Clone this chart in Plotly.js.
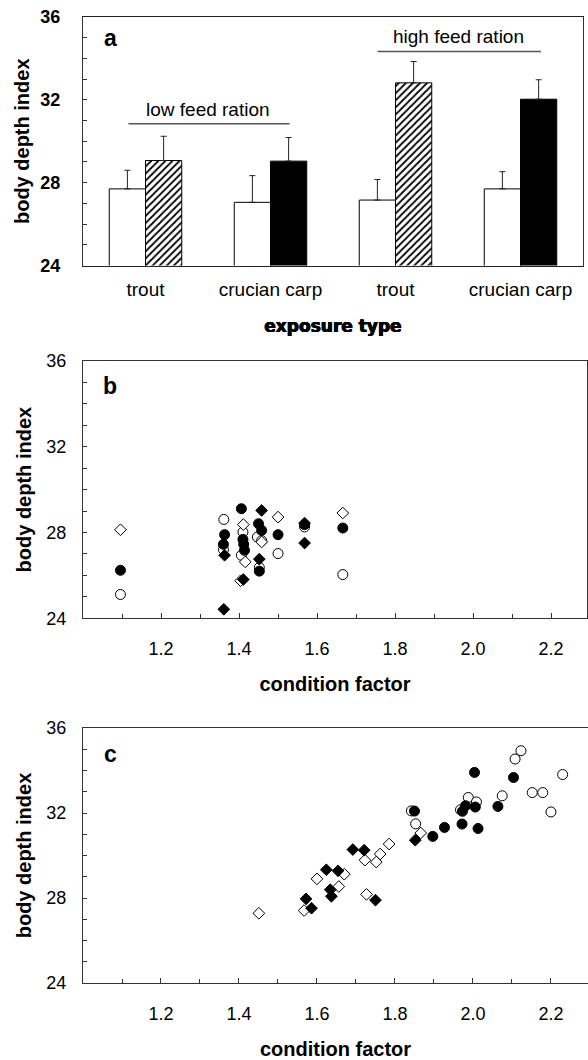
<!DOCTYPE html>
<html>
<head>
<meta charset="utf-8">
<script src="https://cdn.plot.ly/plotly-3.0.1.min.js"></script>
<style>
  html, body { margin: 0; padding: 0; background: #ffffff; }
  #chart { width: 588px; height: 1060px; }
</style>
</head>
<body>
<div id="chart"></div>
<script>
// ---------- Panel a: bar chart ----------
const barCategories = ['trout', 'crucian carp', 'trout', 'crucian carp'];
const barPositions = [0, 1, 2, 3];
const controlMean = [27.70, 27.05, 27.16, 27.70];
const controlErr = [0.90, 1.29, 0.99, 0.83];
const exposedMean = [29.07, 29.04, 32.82, 32.03];
const exposedErr = [1.17, 1.14, 1.03, 0.94];
const noLowerErr = [0, 0, 0, 0];
const exposedHatch = ['/', '', '/', ''];

// ---------- Panel b: low feed ration ----------
const bOpenCircleX = [1.096, 1.361, 1.360, 1.410, 1.406, 1.447, 1.458, 1.452, 1.500, 1.568, 1.666];
const bOpenCircleY = [25.11, 28.61, 27.20, 28.02, 26.94, 27.79, 27.62, 26.37, 27.02, 28.26, 26.04];
const bFilledCircleX = [1.096, 1.363, 1.360, 1.406, 1.410, 1.412, 1.414, 1.450, 1.458, 1.452, 1.500, 1.568, 1.666];
const bFilledCircleY = [26.24, 27.90, 27.45, 29.11, 27.68, 27.45, 27.17, 28.41, 28.10, 26.20, 27.90, 28.37, 28.21];
const bOpenDiamondX = [1.096, 1.411, 1.416, 1.404, 1.458, 1.500, 1.666];
const bOpenDiamondY = [28.13, 28.37, 26.63, 25.75, 27.56, 28.72, 28.91];
const bFilledDiamondX = [1.361, 1.363, 1.411, 1.458, 1.452, 1.568, 1.568];
const bFilledDiamondY = [24.42, 26.94, 25.81, 29.03, 26.76, 28.44, 27.51];

// ---------- Panel c: high feed ration ----------
const cOpenCircleX = [2.123, 2.108, 2.230, 2.152, 2.179, 2.200, 2.075, 1.988, 2.009, 1.968, 1.842, 1.853];
const cOpenCircleY = [34.93, 34.54, 33.81, 32.96, 32.96, 32.05, 32.81, 32.73, 32.52, 32.15, 32.10, 31.49];
const cFilledCircleX = [2.004, 2.104, 2.064, 1.981, 2.006, 1.973, 1.972, 2.013, 1.927, 1.897, 1.850];
const cFilledCircleY = [33.91, 33.67, 32.31, 32.34, 32.28, 32.08, 31.48, 31.27, 31.32, 30.90, 32.09];
const cOpenDiamondX = [1.451, 1.567, 1.600, 1.670, 1.656, 1.723, 1.752, 1.762, 1.785, 1.866, 1.727];
const cOpenDiamondY = [27.28, 27.41, 28.90, 29.12, 28.54, 29.78, 29.69, 30.07, 30.54, 31.06, 28.17];
const cFilledDiamondX = [1.572, 1.586, 1.624, 1.654, 1.634, 1.637, 1.692, 1.721, 1.750, 1.852];
const cFilledDiamondY = [27.96, 27.52, 29.33, 29.28, 28.39, 28.08, 30.28, 30.25, 27.90, 30.72];

// ---------- Tick labels ----------
const yTickVals = [24, 28, 32, 36];
const xTickVals = [1.2, 1.4, 1.6, 1.8, 2.0, 2.2];
const xTickText = ['1.2', '1.4', '1.6', '1.8', '2.0', '2.2'];

// ---------- helpers ----------
const W = 588, H = 1060;
const px = v => v / W;
const py = v => 1 - v / H;
const FONT = 'Liberation Sans, Arial, sans-serif';
const AX = '#333333';

function scatterTrace(x, y, symbol, fill, xa, ya, size) {
  return {
    type: 'scatter', mode: 'markers', x: x, y: y, xaxis: xa, yaxis: ya,
    marker: { symbol: symbol, size: size, color: fill, line: { color: '#000', width: 1 } },
    hoverinfo: 'x+y', showlegend: false
  };
}

const traces = [
  {
    type: 'bar', x: barPositions, y: controlMean, xaxis: 'x', yaxis: 'y',
    marker: { color: '#ffffff', line: { color: '#000', width: 1 } },
    error_y: { type: 'data', symmetric: false, array: controlErr, arrayminus: noLowerErr,
               color: '#222', thickness: 1, width: 3 },
    showlegend: false
  },
  {
    type: 'bar', x: barPositions, y: exposedMean, xaxis: 'x', yaxis: 'y',
    marker: { color: '#000000', line: { color: '#000', width: 1 },
              pattern: { shape: exposedHatch, fillmode: 'replace', fgcolor: '#000', bgcolor: '#fff',
                         size: 5, solidity: 0.35 } },
    error_y: { type: 'data', symmetric: false, array: exposedErr, arrayminus: noLowerErr,
               color: '#222', thickness: 1, width: 3 },
    showlegend: false
  },
  scatterTrace(bOpenCircleX, bOpenCircleY, 'circle', '#fff', 'x2', 'y2', 10),
  scatterTrace(bFilledCircleX, bFilledCircleY, 'circle', '#000', 'x2', 'y2', 10),
  scatterTrace(bOpenDiamondX, bOpenDiamondY, 'diamond', '#fff', 'x2', 'y2', 9),
  scatterTrace(bFilledDiamondX, bFilledDiamondY, 'diamond', '#000', 'x2', 'y2', 9),
  scatterTrace(cOpenCircleX, cOpenCircleY, 'circle', '#fff', 'x3', 'y3', 10),
  scatterTrace(cFilledCircleX, cFilledCircleY, 'circle', '#000', 'x3', 'y3', 10),
  scatterTrace(cOpenDiamondX, cOpenDiamondY, 'diamond', '#fff', 'x3', 'y3', 9),
  scatterTrace(cFilledDiamondX, cFilledDiamondY, 'diamond', '#000', 'x3', 'y3', 9)
];

const yTitle = { text: 'body depth index', font: { family: FONT, size: 20, weight: 'bold', color: '#000' } };

function yAxis(domain, bold, anchor, standoff, labelStandoff) {
  return {
    domain: domain, anchor: anchor, range: [24, 36],
    tickmode: 'array', tickvals: yTickVals,
    ticks: 'inside', ticklen: 4, tickcolor: AX, tickwidth: 1,
    minor: { dtick: 1, tick0: 24, ticks: 'inside', ticklen: 4, tickcolor: AX, showgrid: false },
    showline: true, linecolor: AX, linewidth: 1, mirror: true,
    showgrid: false, zeroline: false, fixedrange: true,
    tickfont: { family: FONT, size: 18, color: '#000', weight: bold ? 'bold' : 'normal' },
    ticklabelstandoff: labelStandoff,
    title: Object.assign({ standoff: standoff }, yTitle)
  };
}

function xAxisCF(domain, anchor, range) {
  return {
    domain: domain, anchor: anchor, range: range,
    tickmode: 'array', tickvals: xTickVals, ticktext: xTickText,
    ticks: 'inside', ticklen: 5, tickcolor: AX, tickwidth: 1,
    minor: { dtick: 0.1, tick0: 1.0, ticks: 'inside', ticklen: 4, tickcolor: AX, showgrid: false },
    showline: true, linecolor: AX, linewidth: 1, mirror: true,
    showgrid: false, zeroline: false, fixedrange: true,
    tickfont: { family: FONT, size: 18, color: '#000' },
    ticklabelstandoff: 14,
    title: { text: 'condition factor', standoff: 19,
             font: { family: FONT, size: 20, weight: 'bold', color: '#000' } }
  };
}

const layout = {
  width: W, height: H,
  margin: { l: 0, r: 0, t: 0, b: 0, pad: 0 },
  paper_bgcolor: '#fff', plot_bgcolor: '#fff',
  showlegend: false,
  font: { family: FONT, color: '#000' },
  barmode: 'group', bargap: 0.42, bargroupgap: 0,
  xaxis: {
    domain: [px(83), px(583)], anchor: 'y', range: [-0.5, 3.5],
    tickmode: 'array', tickvals: barPositions, ticktext: barCategories,
    ticks: '', showline: true, linecolor: '#222', linewidth: 1, mirror: true,
    showgrid: false, zeroline: false, fixedrange: true,
    tickfont: { family: FONT, size: 19, color: '#000' },
    ticklabelstandoff: 7,
    title: { text: 'exposure type', standoff: 20,
             font: { family: 'DejaVu Sans, sans-serif', size: 17, weight: 'bold', color: '#000',
                     shadow: '0.5px 0 0 #000, -0.5px 0 0 #000, 0 0.4px 0 #000' } }
  },
  yaxis: yAxis([py(265.5), py(17)], true, 'x', 5, 18),
  xaxis2: xAxisCF([px(83), px(587)], 'y2', [1.0, 2.292]),
  yaxis2: yAxis([py(618.3), py(361)], false, 'x2', 9, 12),
  xaxis3: xAxisCF([px(83), 1.0], 'y3', [1.0, 2.295]),
  yaxis3: yAxis([py(983), py(728)], false, 'x3', 9, 12),
  shapes: [
    { type: 'line', xref: 'x', yref: 'y', x0: -0.136, x1: 1.152, y0: 30.85, y1: 30.85,
      line: { color: '#555', width: 1.5 } },
    { type: 'line', xref: 'x', yref: 'y', x0: 1.856, x1: 3.164, y0: 34.34, y1: 34.34,
      line: { color: '#555', width: 1.5 } }
  ],
  annotations: [
    { text: 'low feed ration', xref: 'x', yref: 'y', x: 0.5, y: 31.53, showarrow: false,
      xanchor: 'center', yanchor: 'middle', font: { family: FONT, size: 19, color: '#000' } },
    { text: 'high feed ration', xref: 'x', yref: 'y', x: 2.5, y: 35.08, showarrow: false,
      xanchor: 'center', yanchor: 'middle', font: { family: FONT, size: 19, color: '#000' } },
    { text: 'a', xref: 'paper', yref: 'paper', x: px(110), y: py(38), showarrow: false,
      xanchor: 'center', yanchor: 'middle', font: { family: FONT, size: 23, weight: 'bold', color: '#000' } },
    { text: 'b', xref: 'paper', yref: 'paper', x: px(110), y: py(386), showarrow: false,
      xanchor: 'center', yanchor: 'middle', font: { family: FONT, size: 23, weight: 'bold', color: '#000' } },
    { text: 'c', xref: 'paper', yref: 'paper', x: px(110), y: py(754), showarrow: false,
      xanchor: 'center', yanchor: 'middle', font: { family: FONT, size: 23, weight: 'bold', color: '#000' } }
  ]
};

// SVG pattern fills are referenced by full page URL; point them at the local id
// so the hatching renders regardless of how the page is loaded.
function fixPatternRefs() {
  document.querySelectorAll('#chart path').forEach(function (p) {
    const f = p.style.fill || p.getAttribute('fill') || '';
    if (f.indexOf('url(') !== -1) {
      const m = f.match(/#([^"')\s]+)/);
      if (m) p.style.fill = 'url(#' + m[1] + ')';
    }
  });
}

Plotly.newPlot('chart', traces, layout, { displayModeBar: false, staticPlot: true })
  .then(fixPatternRefs);
</script>
</body>
</html>
